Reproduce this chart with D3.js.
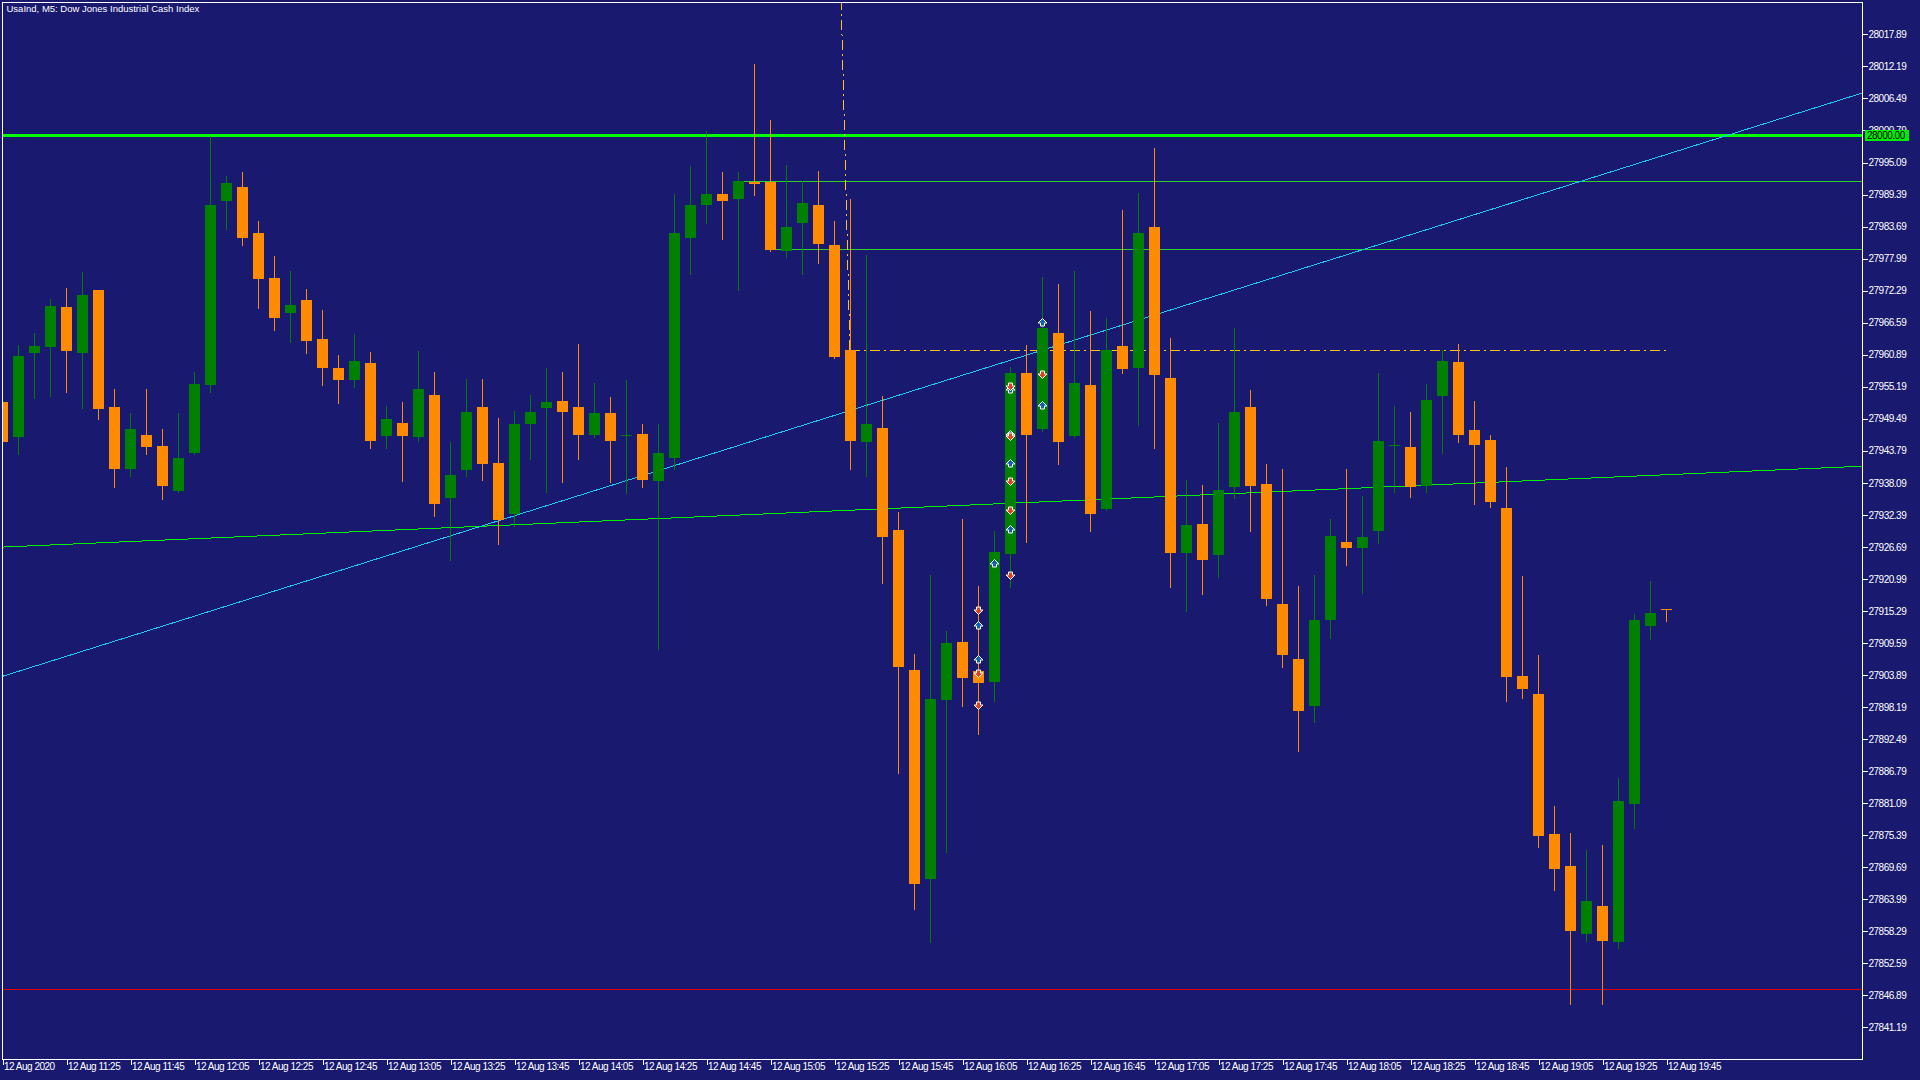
<!DOCTYPE html>
<html><head><meta charset="utf-8">
<script src="https://cdn.jsdelivr.net/npm/d3@7"></script>
<style>html,body{margin:0;padding:0;background:#191970;overflow:hidden}</style>
</head><body><svg id="c" width="1920" height="1080"></svg>
<script>
// ---- data (bar index 0 = 12 Aug 11:05, M5 bars) ----
const openP  = [27952.46,27946.29,27961.18,27962.25,27969.37,27961.18,27972.40,27951.57,27940.54,27946.59,27944.63,27936.62,27943.39,27955.49,27988.23,27990.73,27982.54,27974.53,27968.30,27970.62,27963.68,27958.52,27956.40,27959.37,27946.42,27948.71,27946.22,27953.69,27935.35,27940.33,27951.55,27941.58,27932.51,27948.57,27951.41,27952.66,27951.55,27946.56,27950.51,27946.63,27946.77,27938.39,27942.48,27981.70,27987.52,27989.49,27988.67,27991.66,27991.66,27979.39,27984.41,27987.52,27980.41,27961.72,27945.32,27947.86,27929.68,27904.77,27867.58,27899.43,27909.76,27904.60,27902.64,27925.49,27957.62,27947.59,27964.73,27946.50,27955.51,27933.42,27962.41,27958.56,27983.62,27956.74,27925.65,27930.74,27925.29,27937.42,27951.58,27937.85,27916.50,27906.69,27898.41,27913.59,27927.54,27926.52,27929.44,27944.75,27944.43,27937.50,27953.46,27959.58,27947.49,27945.72,27933.63,27903.74,27900.52,27875.62,27869.89,27857.73,27862.80,27856.44,27880.85,27912.68,27915.58];
const highP  = [27953.50,27962.61,27964.74,27970.79,27972.75,27975.60,27972.40,27954.78,27950.51,27954.78,27947.66,27950.51,27957.80,27999.80,27992.68,27993.40,27984.68,27978.45,27975.78,27972.57,27968.84,27960.83,27964.56,27961.38,27951.76,27952.45,27961.59,27957.78,27945.32,27956.53,27956.53,27949.61,27950.86,27953.69,27958.54,27957.78,27962.77,27955.84,27953.35,27956.40,27948.57,27948.57,27989.49,27994.46,28000.62,27993.37,27993.37,28012.63,28002.65,27994.64,27991.78,27993.56,27984.66,27988.60,27978.63,27953.52,27932.86,27907.62,27921.68,27911.71,27931.65,27919.70,27929.49,27958.67,27962.62,27974.68,27973.45,27975.77,27968.65,27967.49,27986.67,27989.65,27997.64,27963.79,27938.58,27937.71,27948.75,27965.60,27954.63,27941.41,27940.54,27919.69,27921.65,27931.61,27940.54,27935.70,27957.65,27951.76,27950.72,27955.63,27961.68,27962.80,27952.65,27946.61,27940.89,27921.47,27907.45,27880.61,27875.78,27872.72,27873.60,27885.53,27914.78,27920.58,27915.58];
const lowP   = [27944.30,27943.27,27953.24,27953.53,27954.24,27951.40,27949.44,27937.34,27939.35,27943.27,27935.20,27936.45,27943.27,27954.24,27983.25,27980.40,27969.19,27965.28,27963.14,27961.18,27955.49,27952.29,27955.15,27944.28,27944.28,27938.46,27945.52,27932.23,27924.41,27939.29,27938.60,27927.18,27930.43,27942.41,27936.52,27938.25,27942.41,27946.22,27938.25,27936.32,27937.36,27908.48,27940.54,27975.25,27984.41,27981.55,27972.46,27989.37,27979.40,27978.31,27975.26,27977.23,27960.32,27940.55,27939.35,27920.34,27886.44,27862.30,27856.43,27872.38,27898.37,27893.38,27899.26,27919.58,27927.60,27947.37,27941.49,27946.30,27929.43,27933.20,27957.69,27948.46,27944.32,27919.62,27915.34,27918.39,27921.37,27935.46,27929.57,27916.43,27905.38,27890.42,27895.58,27910.54,27923.54,27918.55,27927.43,27936.37,27935.65,27936.37,27943.46,27945.40,27934.36,27933.71,27899.31,27899.71,27873.36,27865.54,27845.32,27856.60,27845.32,27855.39,27876.58,27910.35,27913.41];
const closeP = [27945.34,27960.65,27962.43,27969.55,27961.54,27971.51,27951.22,27940.54,27947.66,27944.46,27937.52,27942.50,27955.67,27987.52,27991.44,27981.65,27974.35,27967.41,27969.73,27963.32,27958.52,27956.38,27959.79,27945.52,27949.40,27946.42,27954.80,27934.31,27939.50,27950.65,27941.44,27931.47,27948.57,27950.65,27952.45,27950.65,27946.56,27950.51,27945.52,27946.68,27938.60,27943.38,27982.57,27987.53,27989.49,27988.22,27991.78,27991.34,27979.58,27983.58,27987.91,27980.60,27960.51,27945.51,27948.56,27928.48,27905.31,27866.75,27899.61,27909.58,27903.35,27902.46,27925.77,27957.65,27946.65,27965.60,27945.34,27955.87,27932.55,27961.75,27958.41,27982.53,27957.25,27925.51,27930.59,27924.42,27936.84,27950.71,27937.56,27917.44,27907.49,27897.54,27913.66,27928.63,27926.52,27928.45,27945.56,27944.80,27937.42,27952.81,27959.74,27946.53,27944.75,27934.60,27903.58,27901.48,27875.29,27869.41,27858.37,27863.69,27856.60,27881.50,27913.65,27914.94,27915.55];

const timeLabels = ["12 Aug 2020","12 Aug 11:25","12 Aug 11:45","12 Aug 12:05","12 Aug 12:25","12 Aug 12:45","12 Aug 13:05","12 Aug 13:25","12 Aug 13:45","12 Aug 14:05","12 Aug 14:25","12 Aug 14:45","12 Aug 15:05","12 Aug 15:25","12 Aug 15:45","12 Aug 16:05","12 Aug 16:25","12 Aug 16:45","12 Aug 17:05","12 Aug 17:25","12 Aug 17:45","12 Aug 18:05","12 Aug 18:25","12 Aug 18:45","12 Aug 19:05","12 Aug 19:25","12 Aug 19:45"];
const timeLabelBars = [0,4,8,12,16,20,24,28,32,36,40,44,48,52,56,60,64,68,72,76,80,84,88,92,96,100,104];
const priceTicks = [28017.89,28012.19,28006.49,28000.79,27995.09,27989.39,27983.69,27977.99,27972.29,27966.59,27960.89,27955.19,27949.49,27943.79,27938.09,27932.39,27926.69,27920.99,27915.29,27909.59,27903.89,27898.19,27892.49,27886.79,27881.09,27875.39,27869.69,27863.99,27858.29,27852.59,27846.89,27841.19];

// signal arrows
const markerBar   = [61,61,61,61,61,62,63,63,63,63,63,63,63,63,63,65,65,65];
const markerPrice = [27915.50,27912.78,27906.73,27904.29,27898.49,27923.81,27955.37,27954.73,27946.77,27946.42,27941.61,27938.46,27933.30,27929.87,27921.62,27966.70,27957.40,27951.93];
const markerDir   = ["down","up","up","down","down","up","down","up","up","down","up","down","down","up","down","up","down","up"];

// horizontal levels: price, start bar (null = left edge)
const levelPrice = [28000.00, 27991.75, 27979.65, 27847.95];
const levelStart = [null, 46, 48, null];
// trend lines: [bar1, price1, bar2, price2]
const cyanTrend  = [0, 27903.65, 104, 27996.53];
const greenTrend = [0, 27926.65, 104, 27939.53];
// dash-dot (orange) lines
const dashH = [52.97, 27961.68, 104, 27961.68];
const dashV = [52.97, 27961.68, 52.41, 28023.66];

// ---- layout ----
const L = 2.5, T = 2.5, R = 1862.5, B = 1059.5;
const svg = d3.select("#c");
svg.append("rect").attr("width",1920).attr("height",1080).attr("fill","#191970");

const x = d3.scaleLinear().domain([0,104]).range([2.5,1666.5]);
const y = d3.scaleLinear().domain([28017.89,27841.19]).range([34.4,1027.3]);

const defs = svg.append("defs");
defs.append("clipPath").attr("id","pc").append("rect")
  .attr("x",L).attr("y",T).attr("width",R-L).attr("height",B-T);

const plot = svg.append("g").attr("clip-path","url(#pc)");
const FONT = "'Liberation Sans', Arial, sans-serif";

// lines (behind candles)
const lineG = plot.append("g").attr("shape-rendering","crispEdges");
const lvlColor = ["#00ff00","#2ed02e","#2ed02e","#e00000"];
const lvlWidth = [3,1,1,1];
levelPrice.forEach((p,k)=>{
  const yy = lvlWidth[k]===1 ? Math.round(y(p))+0.5 : Math.round(y(p));
  lineG.append("line")
    .attr("x1", levelStart[k]===null ? L : x(levelStart[k])).attr("x2", R)
    .attr("y1", yy).attr("y2", yy)
    .attr("stroke", lvlColor[k]).attr("stroke-width", lvlWidth[k]);
});
function extLine(t, color, dash, extend){
  const [b1,p1,b2,p2] = t;
  let xa=x(b1), ya=y(p1), xb=x(b2), yb=y(p2);
  if (extend){
    const s=(yb-ya)/(xb-xa);
    const x0=L, x1=R;
    ya = ya + s*(x0-xa); yb = ya + s*(x1-x0); xa=x0; xb=x1;
  }
  const ln = lineG.append("line").attr("x1",xa).attr("y1",ya).attr("x2",xb).attr("y2",yb)
    .attr("stroke",color).attr("stroke-width",1);
  if (dash) ln.attr("stroke-dasharray",dash);
}
extLine(greenTrend, "#00ee00", null, true);
extLine(cyanTrend, "#1ec8f0", null, true);
extLine(dashH, "#ffc020", "10,4,2,4", false);
// vertical-ish dash line extends to top
(function(){
  const [b1,p1,b2,p2]=dashV;
  lineG.append("line").attr("x1",x(b1)).attr("y1",y(p1)).attr("x2",x(b2)).attr("y2",y(p2)-4)
    .attr("stroke","#ffc020").attr("stroke-width",1).attr("stroke-dasharray","10,4,2,4");
})();

// candles
const idx = d3.range(openP.length);
const cg = plot.append("g").attr("shape-rendering","crispEdges");
const UP="#008000", DN="#ff8c00";
const col = i => closeP[i] >= openP[i] ? UP : DN;
cg.selectAll("line.w").data(idx).join("line").attr("class","w")
  .attr("x1",i=>x(i)).attr("x2",i=>x(i))
  .attr("y1",i=>Math.round(y(highP[i]))).attr("y2",i=>Math.round(y(lowP[i]))+1)
  .attr("stroke",col).attr("stroke-width",1);
cg.selectAll("rect.b").data(idx).join("rect").attr("class","b")
  .attr("x",i=>x(i)-5.5).attr("width",11)
  .attr("y",i=>Math.round(y(Math.max(openP[i],closeP[i]))))
  .attr("height",i=>Math.max(1, Math.round(y(Math.min(openP[i],closeP[i]))) - Math.round(y(Math.max(openP[i],closeP[i])))))
  .attr("fill",col);

// arrows
const upPath = "M0,-4L4.5,0.5L2,0.5L2,3.5L-2,3.5L-2,0.5L-4.5,0.5Z";
const dnPath = "M0,4L4.5,-0.5L2,-0.5L2,-3.5L-2,-3.5L-2,-0.5L-4.5,-0.5Z";
const mk = d3.range(markerBar.length);
const ag = plot.append("g");
["up","down"].forEach(dir=>{
  ag.selectAll("path."+dir).data(mk.filter(k=>markerDir[k]===dir)).join("path").attr("class",dir)
    .attr("transform",k=>`translate(${x(markerBar[k])},${Math.round(y(markerPrice[k]))+0.5})`)
    .attr("d", dir==="up"?upPath:dnPath)
    .attr("fill", dir==="up"?"#1060b0":"#e0401e")
    .attr("stroke","#ffffff").attr("stroke-width",1);
});

// frame
svg.append("rect").attr("x",L).attr("y",T).attr("width",R-L).attr("height",B-T)
  .attr("fill","none").attr("stroke","#ffffff").attr("stroke-width",1).attr("shape-rendering","crispEdges");

// price axis
const ya = d3.axisRight(y).tickValues(priceTicks).tickFormat(d3.format(".2f"))
  .tickSizeInner(5).tickSizeOuter(0).tickPadding(1);
const yg = svg.append("g").attr("transform",`translate(${R},0)`).call(ya);
yg.select(".domain").remove();
yg.selectAll(".tick line").attr("stroke","#fff").attr("shape-rendering","crispEdges");
yg.selectAll(".tick text").attr("fill","#fff").attr("font-family",FONT)
  .attr("font-size","10px").attr("letter-spacing","-0.5px");

// current level label box
const lvY = Math.round(y(28000.00));
svg.append("rect").attr("x",1865).attr("y",lvY-5).attr("width",44).attr("height",11).attr("fill","#00ee00");
svg.append("text").attr("x",1867).attr("y",lvY).attr("dy","0.35em").attr("fill","#000")
  .attr("font-family",FONT).attr("font-size","10px").attr("letter-spacing","-0.5px").text("28000.00");

// time axis
const xa = d3.axisBottom(x).tickValues(timeLabelBars)
  .tickFormat((d,k)=>timeLabels[k]).tickSizeInner(5).tickSizeOuter(0).tickPadding(2);
const xg = svg.append("g").attr("transform",`translate(0,${B})`).call(xa);
xg.select(".domain").remove();
xg.selectAll(".tick line").attr("stroke","#fff").attr("shape-rendering","crispEdges");
xg.selectAll(".tick text").attr("fill","#fff").attr("font-family",FONT)
  .attr("font-size","10px").attr("letter-spacing","-0.5px")
  .attr("text-anchor","start").attr("x",1).attr("y",3).attr("dy","0.71em");

// title
svg.append("text").attr("x",6.5).attr("y",12).attr("fill","#fff")
  .attr("font-family",FONT).attr("font-size","9.5px")
  .text("UsaInd, M5:  Dow Jones Industrial Cash Index");
</script>
</body></html>
